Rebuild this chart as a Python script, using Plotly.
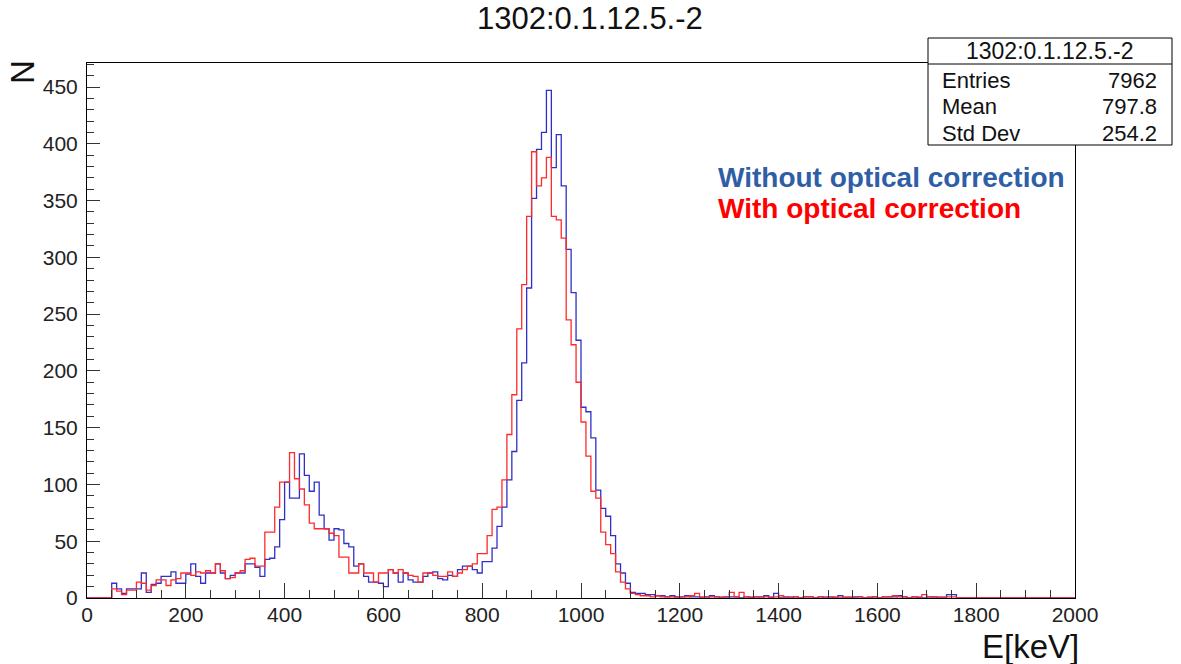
import plotly.graph_objects as go

# Histogram binning: 200 bins of 10 keV from 0 to 2000 keV
BIN_WIDTH = 10
BIN_LOW = list(range(0, 2000, BIN_WIDTH))

# Counts per bin, without optical correction
counts_raw = [
    0, 0, 0, 0, 0,
    13, 8, 4, 8, 8, 8, 22, 5, 12, 13,
    19, 19, 23, 13, 13, 21, 30, 19, 13, 22,
    22, 30, 22, 17, 20, 22, 22, 30, 30, 27,
    19, 34, 35, 45, 69, 102, 88, 88, 127, 108,
    94, 102, 73, 61, 51, 61, 60, 48, 45, 28,
    30, 19, 14, 14, 13, 10, 25, 22, 14, 22,
    16, 14, 14, 19, 22, 23, 17, 16, 20, 19,
    25, 28, 28, 25, 22, 32, 32, 44, 63, 80,
    104, 129, 174, 207, 273, 352, 395, 410, 447, 379,
    408, 363, 307, 269, 227, 168, 164, 141, 95, 79,
    72, 55, 30, 22, 13, 5, 4, 4, 3, 3,
    2, 2, 1, 2, 1, 1, 2, 1, 1, 0,
    1, 2, 1, 0, 1, 1, 1, 0, 1, 0,
    1, 1, 2, 0, 4, 0, 1, 0, 1, 0,
    1, 1, 0, 1, 0, 1, 0, 2, 0, 0,
    1, 1, 0, 0, 1, 0, 1, 1, 1, 2,
    1, 0, 1, 0, 0, 1, 1, 0, 0, 3,
    3, 0, 0, 0, 0, 0, 0, 0, 0, 0,
    0, 0, 0, 0, 0, 0, 0, 0, 0, 0,
    0, 0, 0, 0, 0,
]

# Counts per bin, with optical correction
counts_corr = [
    0, 0, 0, 0, 0,
    8, 6, 3, 7, 7, 14, 13, 7, 11, 16,
    16, 11, 16, 17, 22, 22, 20, 23, 22, 24,
    22, 30, 24, 17, 18, 22, 24, 34, 35, 28,
    28, 58, 58, 80, 102, 102, 128, 105, 96, 82,
    66, 61, 61, 61, 57, 55, 36, 36, 22, 22,
    30, 22, 22, 14, 22, 22, 25, 22, 25, 22,
    20, 19, 14, 22, 22, 20, 19, 19, 23, 19,
    22, 25, 28, 30, 39, 39, 55, 78, 80, 104,
    144, 179, 237, 276, 336, 393, 363, 370, 388, 336,
    333, 317, 245, 223, 190, 155, 125, 94, 88, 58,
    47, 39, 23, 14, 8, 4, 3, 2, 2, 1,
    2, 1, 1, 1, 0, 1, 1, 2, 4, 1,
    0, 1, 1, 1, 0, 5, 1, 5, 1, 1,
    1, 0, 1, 1, 1, 2, 0, 1, 1, 0,
    1, 1, 0, 1, 1, 0, 1, 0, 1, 1,
    0, 1, 0, 1, 1, 0, 1, 1, 2, 1,
    1, 0, 1, 1, 3, 1, 0, 1, 1, 1,
    1, 0, 0, 0, 0, 0, 0, 0, 0, 0,
    0, 0, 0, 0, 0, 0, 0, 0, 0, 0,
    0, 0, 0, 0, 0,
]

HIST_TITLE = "1302:0.1.12.5.-2"
stats_rows = [("Entries", "7962"), ("Mean", "797.8"), ("Std Dev", "254.2")]
legend_labels = ["Without optical correction", "With optical correction"]

X_TICKS = list(range(0, 2001, 200))
Y_TICKS = list(range(0, 451, 50))

FONT = "Liberation Sans, Arial, Helvetica, sans-serif"
BLUE_LINE = "#3030c8"
RED_LINE = "#ff2a2a"
BLUE_TEXT = "#2e5ea6"
RED_TEXT = "#ff0000"


def step_xy(counts):
    xs = BIN_LOW + [BIN_LOW[-1] + BIN_WIDTH]
    ys = list(counts) + [counts[-1]]
    return xs, ys


fig = go.Figure()
for counts, colour in ((counts_raw, BLUE_LINE), (counts_corr, RED_LINE)):
    xs, ys = step_xy(counts)
    fig.add_trace(go.Scatter(
        x=xs, y=ys, mode="lines", line_shape="hv",
        line=dict(color=colour, width=1.3),
        hoverinfo="skip", showlegend=False,
    ))

W, H = 1181, 664
L, R, T, B = 87, 1075, 63, 598


def px(x):
    return (x - L) / (R - L)


def py(y):
    return (B - y) / (B - T)


fig.update_layout(
    width=W, height=H,
    margin=dict(l=L, r=W - R, t=T, b=H - B, pad=0),
    paper_bgcolor="white", plot_bgcolor="white",
    font=dict(family=FONT, color="#222222"),
    showlegend=False,
    xaxis=dict(
        range=[0, 2000], tickvals=X_TICKS, ticktext=[str(v) for v in X_TICKS],
        ticks="inside", ticklen=15, tickcolor="#333", tickwidth=1,
        minor=dict(dtick=50, ticks="inside", ticklen=8, tickcolor="#333"),
        showline=True, linecolor="black", linewidth=1, mirror=True,
        showgrid=False, zeroline=False, ticklabelstandoff=-2,
        tickfont=dict(size=21, family=FONT, color="#222"),
    ),
    yaxis=dict(
        range=[0, (B - T) / ((B - 87) / 450)], tickvals=Y_TICKS,
        ticktext=[str(v) for v in Y_TICKS],
        ticks="inside", ticklen=13, tickcolor="#333", tickwidth=1,
        minor=dict(dtick=10, ticks="inside", ticklen=7, tickcolor="#333"),
        showline=True, linecolor="black", linewidth=1, mirror=True,
        showgrid=False, zeroline=False, ticklabelstandoff=4,
        tickfont=dict(size=21, family=FONT, color="#222"),
    ),
)

annotations = []
# Title
annotations.append(dict(
    x=px(590), y=py(18), xref="paper", yref="paper", text=HIST_TITLE,
    showarrow=False, xanchor="center", yanchor="middle",
    font=dict(size=31, family=FONT, color="#111")))
# Axis titles
annotations.append(dict(
    x=px(1080), y=py(666), xref="paper", yref="paper", text="E[keV]",
    showarrow=False, xanchor="right", yanchor="bottom", borderpad=0,
    font=dict(size=33, family=FONT, color="#111")))
annotations.append(dict(
    x=px(22), y=py(58), xref="paper", yref="paper", text="N",
    showarrow=False, xanchor="center", yanchor="top", textangle=-90,
    font=dict(size=33, family=FONT, color="#111")))
# Series labels
annotations.append(dict(
    x=px(716), y=py(177), xref="paper", yref="paper",
    text="<b>%s</b>" % legend_labels[0], showarrow=False,
    xanchor="left", yanchor="middle",
    font=dict(size=28, family=FONT, color=BLUE_TEXT)))
annotations.append(dict(
    x=px(716), y=py(208), xref="paper", yref="paper",
    text="<b>%s</b>" % legend_labels[1], showarrow=False,
    xanchor="left", yanchor="middle",
    font=dict(size=28, family=FONT, color=RED_TEXT)))

# Statistics box
BOX_L, BOX_R, BOX_T, BOX_SEP, BOX_B = 928, 1172, 38, 64, 145
shapes = [
    dict(type="rect", xref="paper", yref="paper",
         x0=px(BOX_L), x1=px(BOX_R), y0=py(BOX_B), y1=py(BOX_T),
         line=dict(color="black", width=1), fillcolor="white", layer="above"),
    dict(type="line", xref="paper", yref="paper",
         x0=px(BOX_L), x1=px(BOX_R), y0=py(BOX_SEP), y1=py(BOX_SEP),
         line=dict(color="black", width=1), layer="above"),
]
annotations.append(dict(
    x=px((BOX_L + BOX_R) / 2), y=py(51), xref="paper", yref="paper",
    text=HIST_TITLE, showarrow=False, xanchor="center", yanchor="middle",
    font=dict(size=23, family=FONT, color="#111")))
for i, (name, val) in enumerate(stats_rows):
    yy = py(80 + i * 26.5)
    annotations.append(dict(
        x=px(940), y=yy, xref="paper", yref="paper", text=name,
        showarrow=False, xanchor="left", yanchor="middle",
        font=dict(size=22, family=FONT, color="#111")))
    annotations.append(dict(
        x=px(1159), y=yy, xref="paper", yref="paper", text=val,
        showarrow=False, xanchor="right", yanchor="middle",
        font=dict(size=22, family=FONT, color="#111")))

fig.update_layout(annotations=annotations, shapes=shapes)
fig.write_html("out.html")
